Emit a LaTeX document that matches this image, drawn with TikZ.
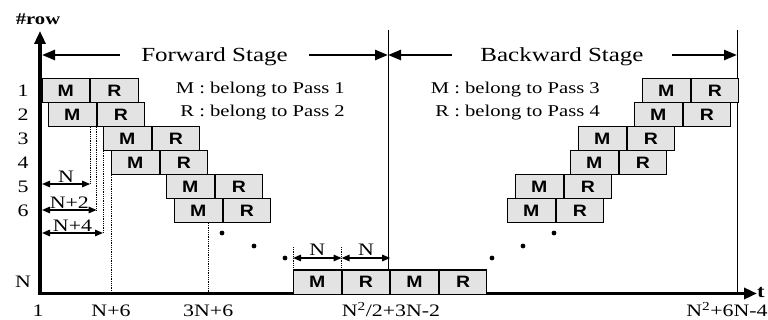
\documentclass[tikz,border=0pt]{standalone}
\usepackage{fontspec}
\setmainfont{Liberation Serif}[FakeStretch=1.25]
\newfontfamily\cellfont{Liberation Sans}[FakeStretch=1.18]
\usetikzlibrary{arrows.meta}

\definecolor{cellgray}{gray}{0.89}

% one row of the schedule: an M cell followed by an R cell
\newcommand\mrpair[3]{%
  \node[cell, anchor=north west] (#1m) at (#2,#3) {M};
  \node[cell, anchor=west] (#1r) at (#1m.east) {R};}

\begin{document}
\begin{tikzpicture}[x=1pt, y=-1pt,
  cell/.style={draw, line width=1.1pt, fill=cellgray, minimum width=47.5pt,
    minimum height=24pt, inner sep=0pt,
    font=\cellfont\bfseries\fontsize{16.5}{17}\selectfont},
  lab/.style={inner sep=0pt, font=\fontsize{17.5}{19}\selectfont},
  legend/.style={inner sep=0pt, font=\fontsize{16.5}{18}\selectfont},
  stagelab/.style={inner ysep=0pt, font=\fontsize{20}{22}\selectfont},
  axisline/.style={line width=3.5pt,
    {Triangle[length=13pt,width=11pt]}-{Triangle[length=13pt,width=11pt]}},
  stagearrow/.style={line width=2.5pt, -{Triangle[length=13pt,width=10pt]}},
  stageline/.style={line width=0.9pt},
  dim/.style={line width=1.4pt,
    {Triangle[length=8pt,width=6.5pt]}-{Triangle[length=8pt,width=6.5pt]}},
  guide/.style={line width=0.8pt, densely dotted},
  dot/.style={circle, fill=black, inner sep=0pt, minimum size=4.8pt},
]
\useasboundingbox (0,0) rectangle (768,320);

% axes
\coordinate (O) at (40,293.5);
\coordinate (ytip) at (40,31);
\coordinate (xtip) at (757,293.5);
\draw[axisline] (ytip) -- (O) -- (xtip);
\node[inner sep=0pt, font=\bfseries\fontsize{16.5}{18}\selectfont] (yname) at (38,19) {\#row};
\node[inner sep=0pt, font=\bfseries\fontsize{18}{20}\selectfont, anchor=west] (xname) at (757,293) {t};

% stage boundaries
\coordinate (sA) at (388,30);
\coordinate (sB) at (737,30);
\draw[stageline] (sA) -- (sA |- O);
\draw[stageline] (sB) -- (sB |- O);

% stage captions with their arrows
\coordinate (fl) at (42,55);
\coordinate (fr) at (388,55);
\coordinate (br) at (737,55);
\node[stagelab, inner xsep=21pt, anchor=base] (fwd) at (214.5,61.5) {Forward Stage};
\node[stagelab, inner xsep=28pt, anchor=base] (bwd) at (562,61.5) {Backward Stage};
\draw[stagearrow] (fwd.west |- fl) -- (fl);
\draw[stagearrow] (fwd.east |- fl) -- (fr);
\draw[stagearrow] (bwd.west |- fl) -- (fr);
\draw[stagearrow] (bwd.east |- fl) -- (br);

% legends
\node[legend, anchor=base east] (lg1) at (345,93.5) {M : belong to Pass 1};
\node[legend, anchor=base east] (lg2) at (345,116.5) {R : belong to Pass 2};
\node[legend, anchor=base east] (lg3) at (600,93.5) {M : belong to Pass 3};
\node[legend, anchor=base east] (lg4) at (600,116.5) {R : belong to Pass 4};

% forward stage rows
\mrpair{f1}{41.5}{78}
\mrpair{f2}{48}{102}
\mrpair{f3}{103}{126}
\mrpair{f4}{111}{150}
\mrpair{f5}{166}{174}
\mrpair{f6}{174}{198}
\mrpair{fn}{293}{269.5}
% backward stage rows
\node[cell, anchor=west] (bnm) at (fnr.east) {M};
\node[cell, anchor=west] (bnr) at (bnm.east) {R};
\mrpair{b1}{642}{78}
\mrpair{b2}{634}{102}
\mrpair{b3}{578}{126}
\mrpair{b4}{570}{150}
\mrpair{b5}{515}{174}
\mrpair{b6}{507}{198}

% row numbers
\coordinate (rl) at (23,0);
\node[lab] (r1) at (rl |- f1m) {1};
\node[lab] (r2) at (rl |- f2m) {2};
\node[lab] (r3) at (rl |- f3m) {3};
\node[lab] (r4) at (rl |- f4m) {4};
\node[lab] (r5) at (rl |- f5m) {5};
\node[lab] (r6) at (rl |- f6m) {6};
\node[lab] (rN) at (rl |- fnm) {N};

% time labels
\node[lab, anchor=base] (t1) at (38,316.5) {1};
\node[lab, anchor=base] (t2) at (f4m.south west |- 0,316.5) {N+6};
\node[lab, anchor=base] (t3) at (f4r.south east |- 0,316.5) {3N+6};
\node[lab, anchor=base] (t4) at (391,316.5) {N\textsuperscript{2}/2+3N-2};
\node[lab, anchor=base] (t5) at (727,316.5) {N\textsuperscript{2}+6N-4};

% offsets measured from the start of row 1
\coordinate (d1a) at (42,184);
\coordinate (d1b) at (f1m.east |- d1a);
\coordinate (d2a) at (42,210);
\coordinate (d2b) at (f2m.east |- d2a);
\coordinate (d3a) at (42,233);
\coordinate (d3b) at (f3m.west |- d3a);
\draw[guide] (f1m.east |- f2m.south) -- (d1b);
\draw[guide] (f2m.south east) -- (d2b);
\draw[guide] (f3m.south west) -- (d3b);
\draw[guide] (f4m.south west) -- (f4m.south west |- O);
\draw[guide] (f4r.south east |- f6m.south) -- (f4r.south east |- O);
\draw[dim] (d1a) -- node[lab, above=0.5pt] (n1) {N} (d1b);
\draw[dim] (d2a) -- node[lab, above=0.5pt] (n2) {N+2} (d2b);
\draw[dim] (d3a) -- node[lab, above=0.5pt] (n3) {N+4} (d3b);

% widths of the last row's cells
\coordinate (e0) at (fnm.north west |- 0,258);
\coordinate (e1) at (fnr.north west |- e0);
\coordinate (e2) at (fnr.north east |- e0);
\draw[guide] (fnm.north west) -- (fnm.north west |- 0,247);
\draw[guide] (fnr.north west) -- (fnr.north west |- 0,247);
\draw[dim] (e0) -- node[lab, above=1.5pt] (n4) {N} (e1);
\draw[dim] (e1) -- node[lab, above=1.5pt] (n5) {N} (e2);

% ellipses between row 6 and row N
\node[dot] (p1) at (222,233) {};
\node[dot] (p2) at (254,246) {};
\node[dot] (p3) at (285,258) {};
\node[dot] (q1) at (554,233) {};
\node[dot] (q2) at (523,246) {};
\node[dot] (q3) at (492,258) {};
\end{tikzpicture}
\end{document}
